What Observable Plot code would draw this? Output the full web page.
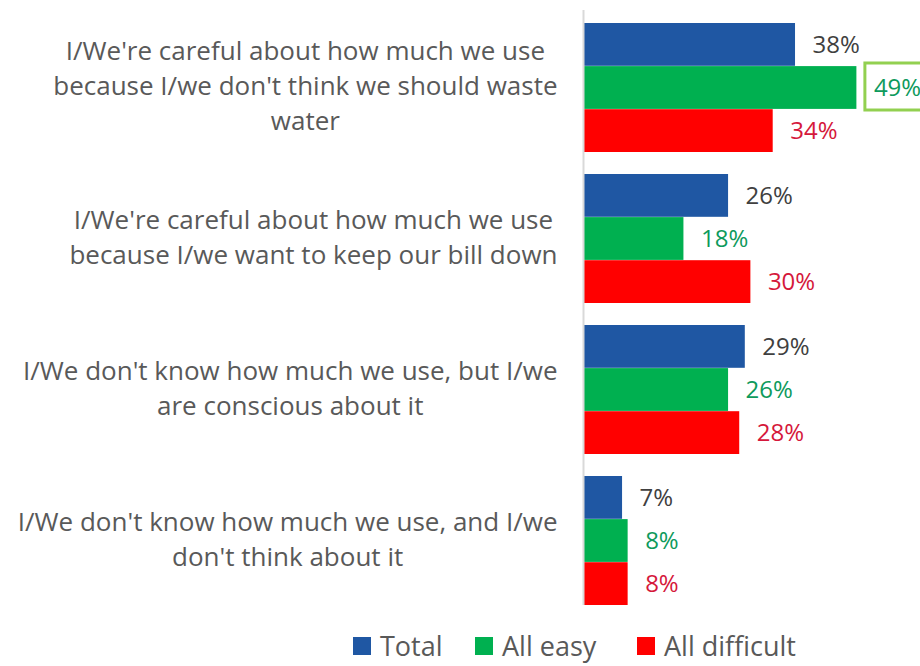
<!DOCTYPE html>
<html><head><meta charset="utf-8">
<script src="https://cdn.jsdelivr.net/npm/d3@7"></script>
<script src="https://cdn.jsdelivr.net/npm/@observablehq/plot@0.6"></script>
<style>
body{margin:0;background:#fff;font-family:"Open Sans",sans-serif;}
#chart{position:relative;width:920px;height:666px;}
.item{position:absolute;top:632px;height:28px;display:flex;align-items:center;font-size:27px;color:#595959;white-space:nowrap;}
.item span{display:inline-block;height:28px;line-height:28px;}
.sw{width:18px;height:18px;margin-right:9px;}
</style>
</head><body><div id="chart"></div>
<script>
const categories = [
  "I/We're careful about how much we use because I/we don't think we should waste water",
  "I/We're careful about how much we use because I/we want to keep our bill down",
  "I/We don't know how much we use, but I/we are conscious about it",
  "I/We don't know how much we use, and I/we don't think about it"
];
const tickLabels = [
  "I/We're careful about how much we use\nbecause I/we don't think we should waste\nwater",
  "I/We're careful about how much we use\nbecause I/we want to keep our bill down",
  "I/We don't know how much we use, but I/we\nare conscious about it",
  "I/We don't know how much we use, and I/we\ndon't think about it"
];
const series = ["Total", "All easy", "All difficult"];
const total = [38, 26, 29, 7];
const allEasy = [49, 18, 26, 8];
const allDifficult = [34, 30, 28, 8];
const colors = ["#1f57a3", "#00b050", "#ff0000"];
const labelColors = ["#404040", "#0e9a5c", "#d5183b"];
const highlight = {series: "All easy", category: categories[0]};

const values = [total, allEasy, allDifficult];
const rows = series.map((s, si) => categories.map((c, ci) => ({series: s, si, category: c, value: values[si][ci]})));

const marginLeft = 583;
const labelRight = 557;
const labelFont = "26px 'Open Sans'";
const ctx = document.createElement("canvas").getContext("2d");
ctx.font = labelFont;
const blockWidth = t => Math.max(...t.split("\n").map(l => ctx.measureText(l).width));

const bh = 43.1;
const marks = [];
rows.forEach((r, si) => {
  marks.push(Plot.barX(r, {x: "value", y: "category", fill: colors[si], insetTop: si * bh, insetBottom: (2 - si) * bh}));
});
const hl = rows.flat().filter(d => d.series === highlight.series && d.category === highlight.category);
marks.push(Plot.barX(hl, {x1: "value", x2: () => 62, y: "category", fill: "none", stroke: "#92d050", strokeWidth: 3, insetLeft: 8.5, insetTop: 40, insetBottom: 42}));
rows.forEach((r, si) => {
  marks.push(Plot.text(r, {x: "value", y: "category", text: d => d.value + "%", dx: 17, dy: (si - 1) * bh, textAnchor: "start", fill: labelColors[si], fontSize: 24}));
});
marks.push(Plot.ruleX([0], {stroke: "#d9d9d9", strokeWidth: 2}));
categories.forEach((c, i) => {
  const pad = marginLeft - (labelRight - blockWidth(tickLabels[i]) / 2);
  marks.push(Plot.axisY({ticks: [c], tickSize: 0, tickPadding: pad, dy: -4, textAnchor: "middle", fontSize: 26, lineHeight: 35 / 26, tickFormat: d => tickLabels[categories.indexOf(d)]}));
});

const plot = Plot.plot({
  width: 920, height: 620,
  marginLeft, marginRight: 0, marginTop: 10, marginBottom: 15,
  style: {fontFamily: "Open Sans", color: "#595959", background: "#fff", overflow: "hidden"},
  x: {domain: [0, 60.4], axis: null},
  y: {domain: categories, paddingInner: 0.1454, paddingOuter: 0.0397, align: 1, label: null, axis: null},
  marks
});
const chart = document.getElementById("chart");
chart.appendChild(plot);
const lefts = [353, 475, 637];
series.forEach((s, i) => {
  const it = document.createElement("div");
  it.className = "item";
  it.style.left = lefts[i] + "px";
  it.innerHTML = `<div class="sw" style="background:${colors[i]}"></div><span>${s}</span>`;
  chart.appendChild(it);
});
</script>
</body></html>
